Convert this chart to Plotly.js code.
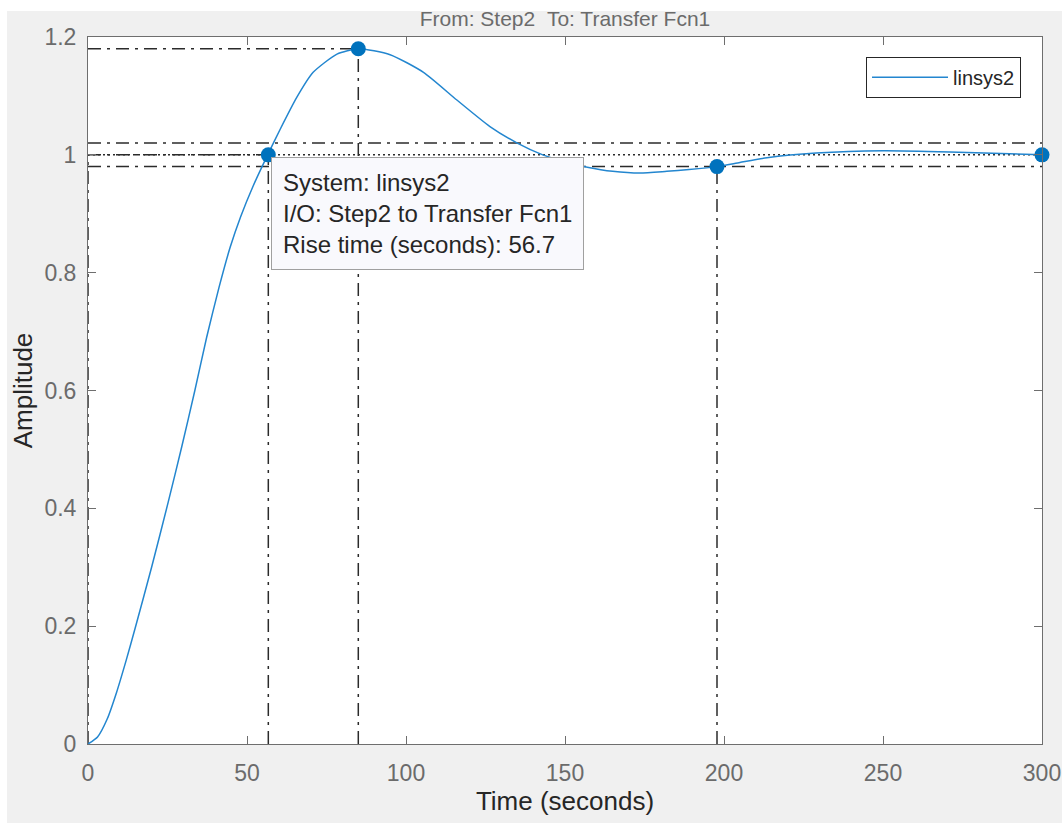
<!DOCTYPE html>
<html>
<head>
<meta charset="utf-8">
<script src="https://cdn.plot.ly/plotly-3.0.1.min.js"></script>
<style>
  html, body { margin: 0; padding: 0; background: #ffffff; }
  #panel { position: absolute; left: 7px; top: 11px; width: 1055px; height: 812px; background: #f0f0f0; }
  #chart { position: absolute; left: 0; top: 0; width: 1062px; height: 825px; }
</style>
</head>
<body>
<div id="panel"></div>
<div id="chart"></div>
<script>
// Step response
const timeSec = [0, 3, 6, 9, 12, 14.8, 20, 25.2, 29.5, 33.6, 37.3, 41.2, 44.7, 48, 52, 56.5, 60.4, 65.6, 70.8, 78.3, 85, 95, 105.5, 116, 126.4, 135, 143, 150, 157, 165, 173.6, 182, 189, 197.8, 205, 213.5, 229, 250, 271, 300];
const amplitude = [0, 0.012, 0.042, 0.088, 0.142, 0.196, 0.3, 0.41, 0.505, 0.6, 0.69, 0.775, 0.843, 0.895, 0.948, 1.0, 1.043, 1.097, 1.14, 1.171, 1.18, 1.17, 1.14, 1.093, 1.048, 1.02, 1.0, 0.988, 0.979, 0.972, 0.969, 0.972, 0.975, 0.98, 0.987, 0.995, 1.003, 1.007, 1.005, 1.0];

// Response characteristics
const riseStart = 0;
const riseTime = 56.7;
const peakTime = 85;
const peakAmp = 1.18;
const settleTime = 197.8;
const settleAmp = 0.98;
const finalTime = 300;
const finalAmp = 1.0;
const settleUpper = 1.02;
const settleLower = 0.98;

const xTicks = [0, 50, 100, 150, 200, 250, 300];
const yTicks = [0, 0.2, 0.4, 0.6, 0.8, 1, 1.2];

const lineColor = '#2386cf';
const markerColor = '#0072BD';
const refColor = '#2b2b2b';
const dashDot = '13px,6px,3px,6px';

function refLine(xs, ys, dash) {
  return {x: xs, y: ys, mode: 'lines', type: 'scatter', showlegend: false, hoverinfo: 'skip',
          line: {color: refColor, width: 1.5, dash: dash}};
}

const traces = [
  refLine([0, finalTime], [settleUpper, settleUpper], dashDot),
  refLine([0, finalTime], [settleLower, settleLower], dashDot),
  refLine([0, finalTime], [finalAmp, finalAmp], '2px,3px'),
  refLine([0, peakTime], [peakAmp, peakAmp], dashDot),
  refLine([0, riseTime], [finalAmp, finalAmp], dashDot),
  refLine([riseStart, riseStart], [0, finalAmp], dashDot),
  refLine([riseTime, riseTime], [0, finalAmp], dashDot),
  refLine([peakTime, peakTime], [0, peakAmp], dashDot),
  refLine([settleTime, settleTime], [0, settleAmp], dashDot),
  {x: timeSec, y: amplitude, mode: 'lines', type: 'scatter', name: 'linsys2',
   line: {color: lineColor, width: 1.5, shape: 'spline', smoothing: 0.6}},
  {x: [riseTime, peakTime, settleTime, finalTime], y: [finalAmp, peakAmp, settleAmp, finalAmp],
   mode: 'markers', type: 'scatter', showlegend: false, cliponaxis: false,
   marker: {color: markerColor, size: 15}}
];

const axisColor = '#6e6e6e';
const tickFont = {family: 'Liberation Sans, Arial, sans-serif', size: 23, color: '#6b6b6b'};

const layout = {
  width: 1062, height: 825,
  paper_bgcolor: 'rgba(0,0,0,0)', plot_bgcolor: '#ffffff',
  margin: {l: 88, r: 20, t: 37, b: 81},
  font: {family: 'Liberation Sans, Arial, sans-serif'},
  title: {text: 'From: Step2&nbsp;&nbsp;To: Transfer Fcn1', x: 0.5, xref: 'paper', y: 0.977, yref: 'container', yanchor: 'middle',
          font: {size: 21, color: '#6b6b6b', family: 'Liberation Sans, Arial, sans-serif'}},
  xaxis: {range: [0, 300], tickvals: xTicks, ticktext: xTicks.map(String), showgrid: false, zeroline: false,
          showline: true, linecolor: axisColor, linewidth: 1, mirror: 'ticks', ticks: 'inside', ticklen: 8, tickcolor: axisColor,
          tickfont: tickFont, ticklabelstandoff: 8,
          title: {text: 'Time (seconds)', font: {size: 26, color: '#262626'}, standoff: 4}},
  yaxis: {range: [0, 1.2], tickvals: yTicks, ticktext: yTicks.map(String), showgrid: false, zeroline: false,
          showline: true, linecolor: axisColor, linewidth: 1, mirror: 'ticks', ticks: 'inside', ticklen: 8, tickcolor: axisColor,
          tickfont: tickFont, ticklabelstandoff: 6,
          title: {text: 'Amplitude', font: {size: 26, color: '#262626'}, standoff: 4}},
  legend: {x: 0.978, y: 0.972, xanchor: 'right', yanchor: 'top', bgcolor: '#ffffff', bordercolor: '#262626', borderwidth: 1,
           font: {size: 20, color: '#262626'}, itemwidth: 76, tracegroupgap: 0},
  annotations: [{
    x: riseTime, y: finalAmp, xref: 'x', yref: 'y', xanchor: 'left', yanchor: 'top', xshift: 3, yshift: -2,
    showarrow: false, align: 'left',
    text: 'System: linsys2<br>I/O: Step2 to Transfer Fcn1<br>Rise time (seconds): ' + riseTime,
    font: {size: 24, color: '#262626'}, bgcolor: '#f9f9fd', bordercolor: '#a0a0a0', borderwidth: 1, borderpad: 11
  }]
};

Plotly.newPlot('chart', traces, layout, {displayModeBar: false, staticPlot: true});
</script>
</body>
</html>
